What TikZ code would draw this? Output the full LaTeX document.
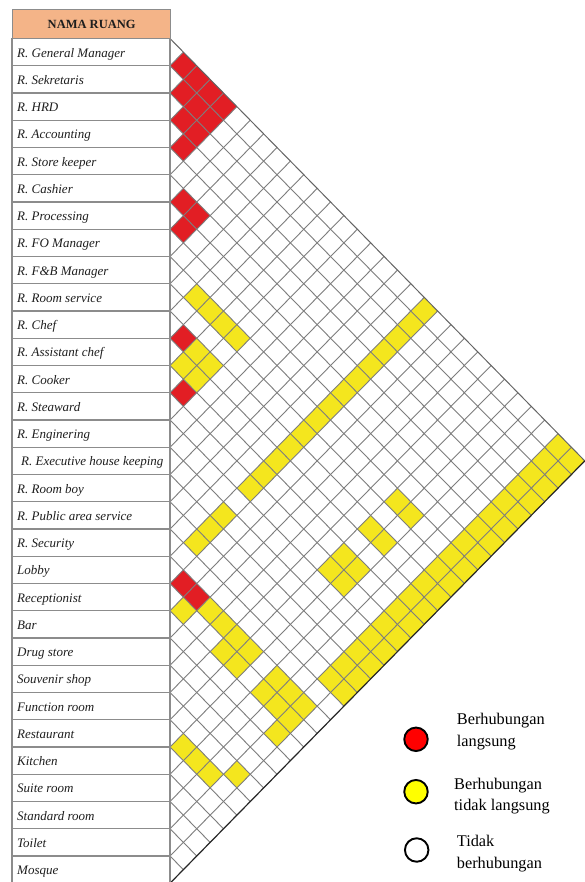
\documentclass[tikz,border=0pt]{standalone}
\usepackage{fontspec}
\setmainfont{Liberation Serif}
\definecolor{cred}{RGB}{226,30,36}
\definecolor{cyel}{RGB}{244,230,30}
\definecolor{gridc}{RGB}{125,125,125}
\definecolor{rowc}{RGB}{140,140,140}
\definecolor{hdrc}{RGB}{244,180,136}
\definecolor{txtc}{RGB}{30,30,30}
\newcommand\mxcell[3]{%
  \pgfmathsetmacro\mcx{170+(#2-#1)*13.38}%
  \pgfmathsetmacro\mcy{38.5+(#1+#2-1)*13.625}%
  \fill[#3] (\mcx-13.38,\mcy) -- (\mcx,\mcy-13.625) -- (\mcx+13.38,\mcy) -- (\mcx,\mcy+13.625) -- cycle;}
\begin{document}
\begin{tikzpicture}[x=1pt,y=-1pt,
  gridline/.style={draw=gridc, line width=0.9pt},
  rowbox/.style={draw=rowc, line width=1.3pt, fill=white},
  lbl/.style={font=\fontsize{13}{15}\selectfont\itshape, anchor=base west, inner sep=0pt, text=txtc},
  legtxt/.style={font=\fontsize{16.3}{20}\selectfont, anchor=base west, inner sep=0pt, text=black},
  legdot/.style={circle, draw=black, line width=1.9pt, minimum size=23.5pt, inner sep=0pt}]
\useasboundingbox (0,0) rectangle (585,882);
\fill[white] (0,0) rectangle (585,882);
% table
\node[draw=rowc, line width=1.3pt, fill=hdrc, minimum width=158pt, minimum height=29.5pt, anchor=north west, inner sep=0pt,
      font=\fontsize{12.5}{14}\selectfont\bfseries, text=txtc] (hdr) at (12,9) {NAMA RUANG};
\foreach \k in {1,...,31} {\draw[rowbox] (12,{38.5+(\k-1)*27.25}) rectangle (170,{38.5+\k*27.25});}
\foreach \k/\x/\t in {1/17/R. General Manager, 2/17/R. Sekretaris, 3/17/R. HRD, 4/17/R. Accounting,
  5/17/R. Store keeper, 6/17/R. Cashier, 7/17/R. Processing, 8/17/R. FO Manager, 9/17/R. F\&B Manager,
  10/17/R. Room service, 11/17/R. Chef, 12/17/R. Assistant chef, 13/17/R. Cooker, 14/17/R. Steaward,
  15/17/R. Enginering, 16/21/R. Executive house keeping, 17/17/R. Room boy, 18/17/R. Public area service,
  19/17/R. Security, 20/17/Lobby, 21/17/Receptionist, 22/17/Bar, 23/17/Drug store, 24/17/Souvenir shop,
  25/17/Function room, 26/17/Restaurant, 27/17/Kitchen, 28/17/Suite room, 29/17/Standard room,
  30/17/Toilet, 31/17/Mosque}
  {\node[lbl] (r\k) at (\x,{38.5+(\k-0.5)*27.25+5}) {\t};}
% coloured cells
\foreach \i/\j in {1/2,1/3,1/4,1/5,2/3,2/4,2/5,3/4,3/5,4/5,6/7,6/8,7/8,11/12,13/14,20/21,20/22}
  {\mxcell{\i}{\j}{cred}}
\foreach \i/\j in {9/11,9/12,9/13,9/14,11/13,12/13,11/14,12/14,16/20,17/20,18/20,
  9/26,9/27,11/26,11/27,13/26,13/27,14/26,14/27,21/22,20/23,20/24,20/25,20/26,21/25,21/26,
  20/28,20/29,20/30,21/28,21/29,21/30,22/30,26/27,26/28,26/29,25/30}
  {\mxcell{\i}{\j}{cyel}}
\foreach \i in {1,...,14} {\mxcell{\i}{20}{cyel}}
\foreach \i in {1,...,18} {\mxcell{\i}{30}{cyel}\mxcell{\i}{31}{cyel}}
% lattice
\foreach \a in {1,...,30} {\draw[gridline] (170,{38.5+\a*27.25}) -- ++({(31-\a)*13.38},{(31-\a)*13.625});}
\foreach \b in {1,...,30} {\draw[gridline] (170,{38.5+\b*27.25}) -- ++({\b*13.38},{-\b*13.625});}
\coordinate (apex) at (170,38.5);
\coordinate (tip) at ({170+31*13.38},{38.5+31*13.625});
\coordinate (foot) at (170,{38.5+31*27.25});
\draw[draw=gridc!80!black, line width=1pt] (apex) -- (tip);
\draw[draw=black!85, line width=1.2pt] (foot) -- (tip);
\draw[draw=rowc, line width=1.3pt] (apex) -- (foot);
% legend
\node[legdot, fill={rgb,255:red,255;green,0;blue,0}] (d1) at (416,739.3) {};
\node[legdot, fill={rgb,255:red,255;green,255;blue,0}] (d2) at (416,791.7) {};
\node[legdot, fill=white] (d3) at (416.7,850) {};
\node[legtxt] (t1a) at (456.7,724.3) {Berhubungan};
\node[legtxt] (t1b) at (456.7,746) {langsung};
\node[legtxt] (t2a) at (454,789.3) {Berhubungan};
\node[legtxt] (t2b) at (454,810.7) {tidak langsung};
\node[legtxt] (t3a) at (456.7,846.7) {Tidak};
\node[legtxt] (t3b) at (456.7,868.3) {berhubungan};
\end{tikzpicture}
\end{document}
